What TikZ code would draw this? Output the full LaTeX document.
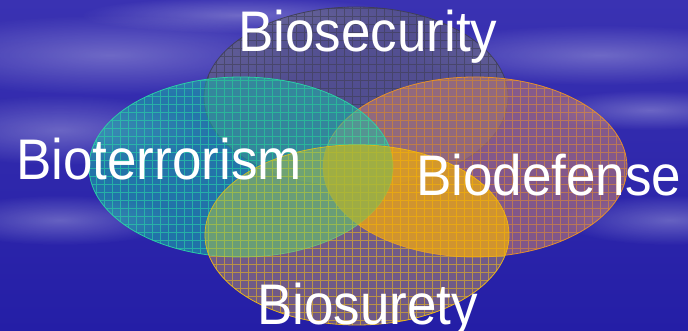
\documentclass[tikz,border=0pt]{standalone}
\usepackage{fontspec}
\setmainfont{Liberation Sans}
\usetikzlibrary{fadings,calc}
\tikzfading[name=softedge, inner color=transparent!0, outer color=transparent!100]
\definecolor{bgtop}{HTML}{3A32B2}
\definecolor{bgmid}{HTML}{4640BA}
\definecolor{bgbot}{HTML}{241EA6}
\definecolor{secfill}{HTML}{6A6A78}
\definecolor{secline}{HTML}{3E3E52}
\definecolor{terfill}{HTML}{18C0A8}
\definecolor{terline}{HTML}{2AD8A6}
\definecolor{deffill}{HTML}{C88070}
\definecolor{defline}{HTML}{F29622}
\definecolor{surfill}{HTML}{C8A060}
\definecolor{surline}{HTML}{F8C010}
\definecolor{overlapyo}{HTML}{F0A800}
\definecolor{overlapgy}{HTML}{66C060}
\tikzset{
  label/.style={text=white, inner sep=0pt, anchor=base west, yscale=1.08,
    font=\fontsize{53}{60}\selectfont},
  cloud/.style={white, opacity=0.28, path fading=softedge},
  elly/.style={x radius=152pt, y radius=90pt},
}
\newcommand{\gridellipse}[5]{%
  \begin{scope}
    \clip (#1) ellipse [elly];
    \fill[#2, opacity=#4] (#1) ellipse [elly];
    \draw[#3, opacity=#5, line width=0.7pt, step=8pt]
      ($(#1)+(-160,-100)$) grid ($(#1)+(160,100)$);
  \end{scope}
  \draw[#3, opacity=0.9, line width=0.8pt] (#1) ellipse [elly];
}
\begin{document}
\begin{tikzpicture}[x=1pt,y=-1pt]
\useasboundingbox (0,0) rectangle (688,331);
% background
\shade[top color=bgtop, middle color=bgmid, bottom color=bgbot] (0,0) rectangle (688,331);
\fill[cloud] (110,55) ellipse [x radius=220pt, y radius=40pt];
\fill[cloud] (60,130) ellipse [x radius=150pt, y radius=35pt];
\fill[cloud] (600,55) ellipse [x radius=200pt, y radius=30pt];
\fill[cloud] (650,110) ellipse [x radius=110pt, y radius=20pt];
\fill[cloud] (670,220) ellipse [x radius=110pt, y radius=25pt];
\fill[cloud] (60,220) ellipse [x radius=120pt, y radius=25pt];
\fill[cloud] (240,15) ellipse [x radius=160pt, y radius=18pt];
% ellipse centres
\coordinate (sec) at (356,97);
\coordinate (ter) at (241,167);
\coordinate (def) at (475,167);
\coordinate (sur) at (357,235);
\gridellipse{sec}{secfill}{secline}{0.55}{0.6}
\gridellipse{def}{deffill}{defline}{0.55}{0.5}
\gridellipse{ter}{terfill}{terline}{0.5}{0.6}
\gridellipse{sur}{surfill}{surline}{0.45}{0.55}
% brighter overlaps
\begin{scope}
  \clip (def) ellipse [elly];
  \fill[overlapyo, opacity=0.6] (sur) ellipse [elly];
\end{scope}
\begin{scope}
  \clip (ter) ellipse [elly];
  \fill[overlapgy, opacity=0.4] (sur) ellipse [elly];
\end{scope}
% labels
\node[label] (tsec) at (238,52) {Biosecurity};
\node[label] (tter) at (16,180) {Bioterrorism};
\node[label] (tdef) at (416,196) {Biodefense};
\node[label] (tsur) at (257,324) {Biosurety};
\end{tikzpicture}
\end{document}
